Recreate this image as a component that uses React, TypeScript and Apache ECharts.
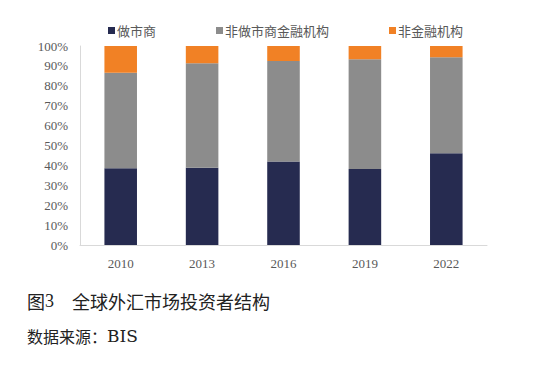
import React, { useEffect, useRef } from "react";
import * as echarts from "echarts";

const categories = ["2010", "2013", "2016", "2019", "2022"];
const dealers = [38.6, 38.8, 41.9, 38.2, 46.1];
const otherFinancial = [48.0, 52.5, 50.6, 55.1, 48.2];
const nonFinancial = [13.4, 8.7, 7.5, 6.7, 5.7];
const seriesNames = ["做市商", "非做市商金融机构", "非金融机构"];
const colors = ["#262B50", "#8C8C8C", "#F18125"];

export default function App() {
  const ref = useRef<HTMLDivElement>(null);
  useEffect(() => {
    const chart = echarts.init(ref.current!, null, { renderer: "svg" });
    const serif = "'Liberation Serif', 'Times New Roman', serif";
    const cjk = "'Noto Sans CJK SC', sans-serif";
    const mk = (name: string, data: number[], color: string) => ({
      name,
      type: "bar",
      stack: "total",
      data,
      barWidth: "40%",
      itemStyle: { color },
    });
    chart.setOption({
      animation: false,
      backgroundColor: "#ffffff",
      legend: {
        left: 103,
        top: 19,
        itemWidth: 7,
        itemHeight: 7,
        itemGap: 60,
        icon: "rect",
        textStyle: { fontFamily: cjk, fontSize: 13, color: "#595959", padding: [0, 0, 0, -3] },
        data: seriesNames,
      },
      grid: { left: 80, right: 46, top: 46, bottom: 122, containLabel: false },
      xAxis: {
        type: "category",
        data: categories,
        axisLine: { lineStyle: { color: "#D9D9D9" } },
        axisTick: { show: false },
        axisLabel: { fontFamily: serif, fontSize: 13, color: "#595959", margin: 12 },
      },
      yAxis: {
        type: "value",
        min: 0,
        max: 100,
        interval: 10,
        axisLine: { show: true, lineStyle: { color: "#D9D9D9" } },
        axisTick: { show: false },
        splitLine: { show: false },
        axisLabel: { formatter: "{value}%", fontFamily: serif, fontSize: 13, color: "#595959", margin: 12 },
      },
      series: [
        mk(seriesNames[0], dealers, colors[0]),
        mk(seriesNames[1], otherFinancial, colors[1]),
        mk(seriesNames[2], nonFinancial, colors[2]),
      ],
      graphic: [
        {
          type: "text",
          left: 27,
          top: 292,
          style: {
            text: "{a|图}{n|3}{a|　全球外汇市场投资者结构}",
            rich: {
              a: { fontFamily: cjk, fontSize: 18, fill: "#222222" },
              n: { fontFamily: serif, fontSize: 18, fill: "#222222" },
            },
          },
        },
        {
          type: "text",
          left: 27,
          top: 327,
          style: {
            text: "{a|数据来源：}{b|BIS}",
            rich: {
              a: { fontFamily: cjk, fontSize: 16, fill: "#222222" },
              b: { fontFamily: "'DejaVu Serif', serif", fontSize: 17, fill: "#222222" },
            },
          },
        },
      ],
    });
    return () => chart.dispose();
  }, []);
  return (
    <div
      ref={ref}
      style={{ position: "fixed", left: 0, top: 0, width: 533, height: 367, background: "#fff" }}
    />
  );
}
